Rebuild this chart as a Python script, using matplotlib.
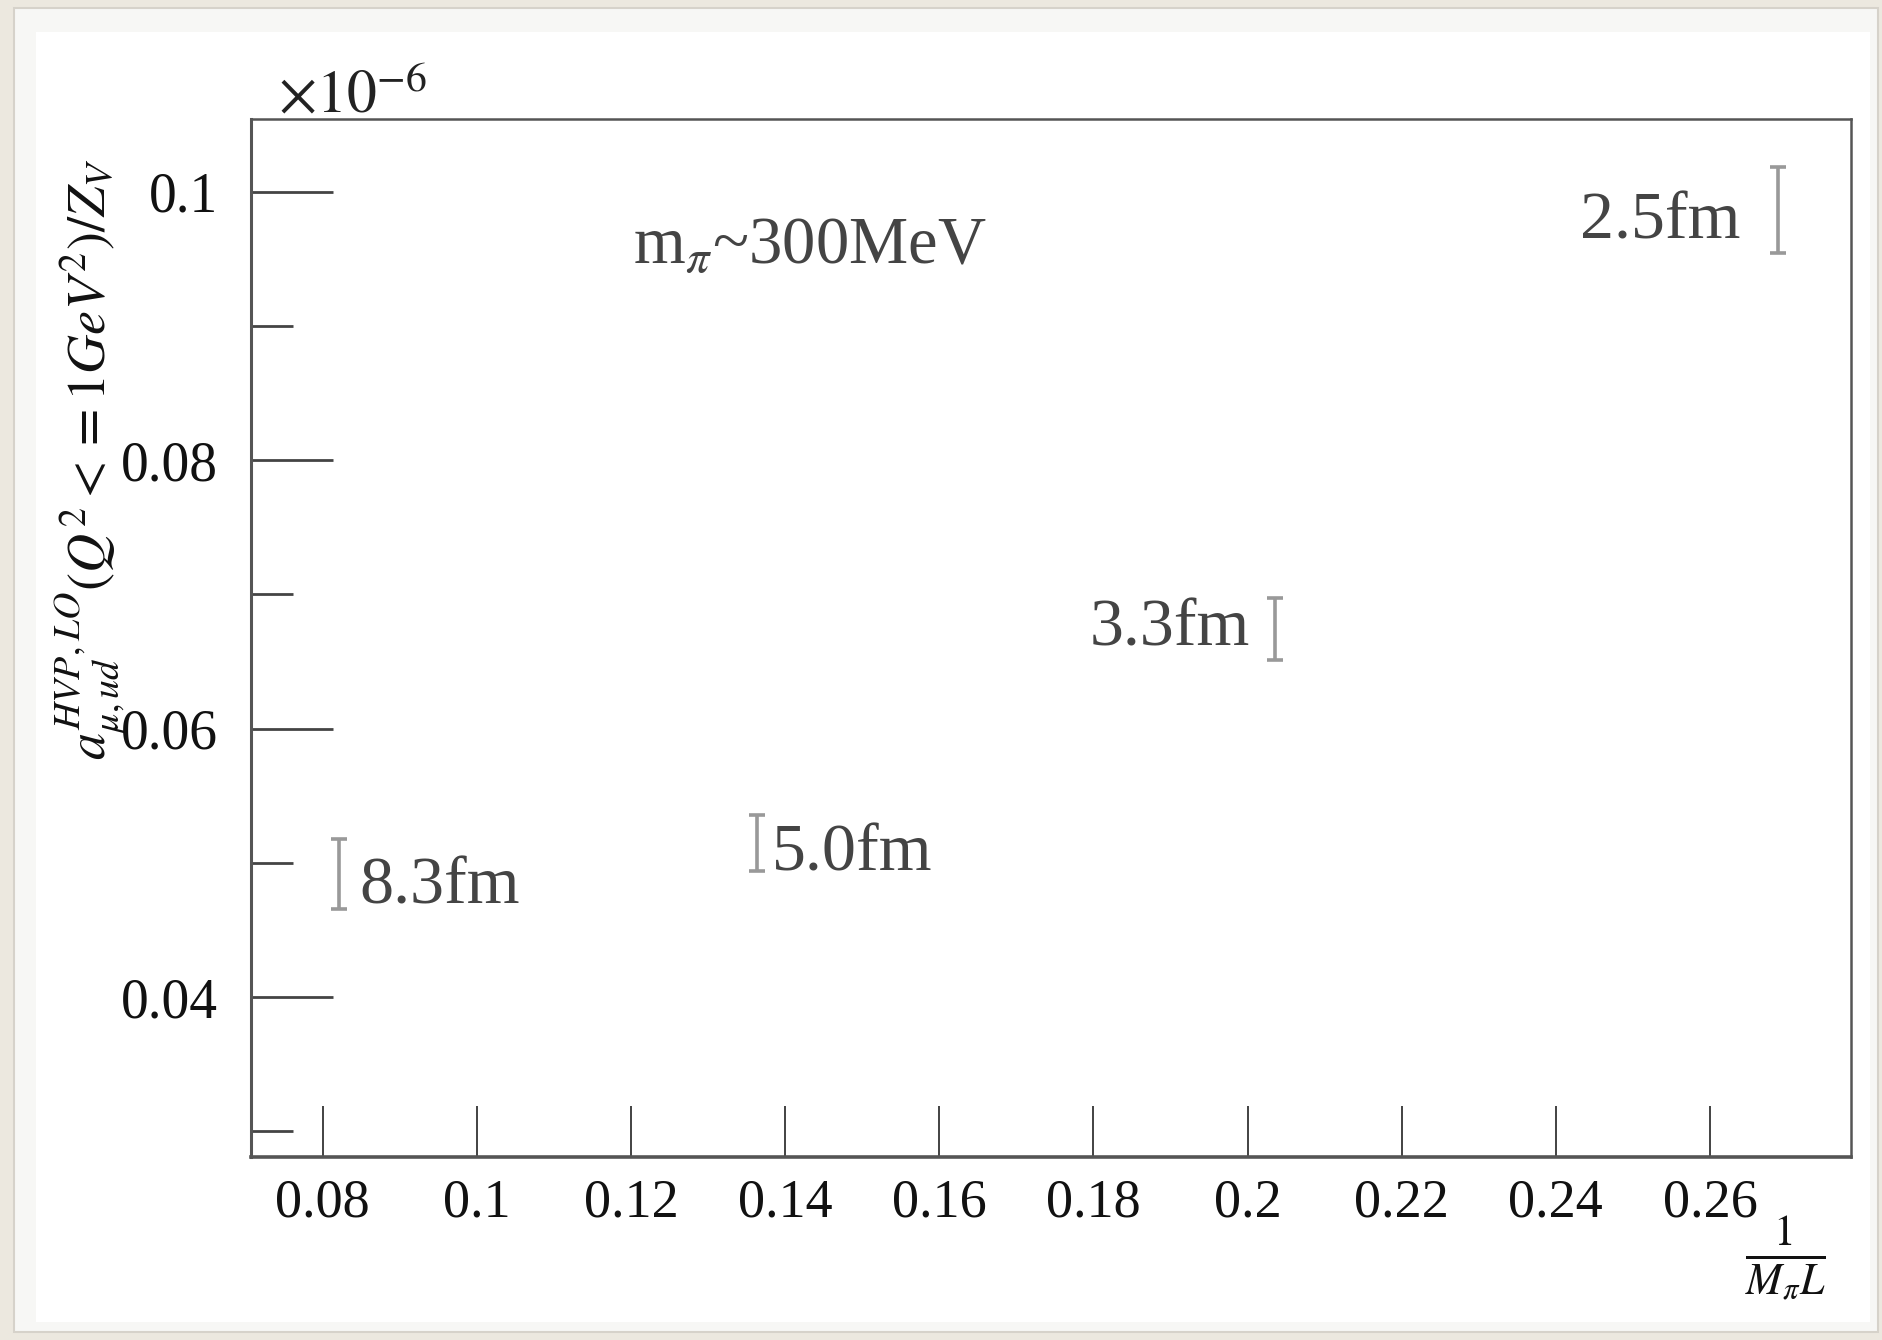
import matplotlib
matplotlib.use("Agg")
import matplotlib.pyplot as plt
from matplotlib.patches import Rectangle
from matplotlib.ticker import FixedLocator

# finite-volume points, m_pi ~ 300 MeV
box_labels = ["8.3fm", "5.0fm", "3.3fm", "2.5fm"]
inv_mpiL = [0.0821, 0.1363, 0.2036, 0.2688]
a_hvp = [0.0492, 0.0515, 0.0674, 0.0986]
a_err = [0.0026, 0.0021, 0.0023, 0.0032]

x_ticks = [0.08, 0.10, 0.12, 0.14, 0.16, 0.18, 0.20, 0.22, 0.24, 0.26]
x_ticklabels = ["0.08", "0.1", "0.12", "0.14", "0.16", "0.18", "0.2", "0.22", "0.24", "0.26"]
y_ticks = [0.04, 0.06, 0.08, 0.10]
y_ticklabels = ["0.04", "0.06", "0.08", "0.1"]

# label offsets (pixels) and alignment per point
LABEL_OFF = {"8.3fm": (21, -30, "left"), "5.0fm": (15, -28, "left"),
             "3.3fm": (-25, -16, "right"), "2.5fm": (-37, -28, "right")}

plt.rcParams["font.family"] = ["Liberation Serif", "DejaVu Serif"]
plt.rcParams["mathtext.fontset"] = "stix"

fig = plt.figure(figsize=(18.83, 13.4), dpi=100, facecolor="#ece8df")
# slide-like frame (behind the axes)
fig.patches.append(Rectangle((14 / 1883, 1 - 1332 / 1340), 1864 / 1883, 1324 / 1340,
                             transform=fig.transFigure, facecolor="#f7f7f5", edgecolor="#d6d2ca",
                             lw=1.5, zorder=-10))
fig.patches.append(Rectangle((36 / 1883, 1 - 1322 / 1340), 1834 / 1883, 1290 / 1340,
                             transform=fig.transFigure, facecolor="white", edgecolor="none",
                             zorder=-9))

ax = fig.add_axes([251 / 1883, 1 - 1157 / 1340, 1600 / 1883, 1038 / 1340])
ax.set_facecolor("white")
ax.errorbar(inv_mpiL, a_hvp, yerr=a_err, fmt="none", ecolor="#999999", elinewidth=2.6,
            capsize=6, capthick=2.6)
for x, y, lab in zip(inv_mpiL, a_hvp, box_labels):
    dx, dy, ha = LABEL_OFF[lab]
    ax.annotate(lab, (x, y), xytext=(dx, dy), textcoords="offset pixels", ha=ha, va="baseline",
                fontsize=49, color="#444444")

ax.text(0.239, 0.860, r"m$_{\pi}$~300MeV", transform=ax.transAxes, fontsize=48,
        color="#444444", ha="left", va="baseline")

ax.set_xlim(0.0707, 0.2783)
ax.set_ylim(0.0281, 0.1054)
ax.xaxis.set_major_locator(FixedLocator(x_ticks))
ax.set_xticklabels(x_ticklabels)
ax.yaxis.set_major_locator(FixedLocator(y_ticks))
ax.set_yticklabels(y_ticklabels)
ax.yaxis.set_minor_locator(FixedLocator([0.03, 0.05, 0.07, 0.09]))

ax.tick_params(axis="y", which="major", direction="in", length=59, width=2, color="#444444",
               labelsize=40, pad=24, right=False, labelcolor="#111111")
ax.tick_params(axis="y", which="minor", direction="in", length=30, width=2, color="#444444", right=False)
ax.tick_params(axis="x", which="major", direction="in", length=37, width=1.2, color="#222222",
               labelsize=39, pad=15, top=False, labelcolor="#111111")
for side, lw in (("left", 2.2), ("bottom", 2.6), ("top", 1.8), ("right", 1.8)):
    ax.spines[side].set_linewidth(lw)
    ax.spines[side].set_color("#555555")

ax.text(0.017, 1.0067, r"$\times10^{-6}$", transform=ax.transAxes, fontsize=43,
        color="#222222", ha="left", va="baseline")
ax.text(-0.099, 0.672, r"$a^{HVP,LO}_{\mu,ud}(Q^2<=1GeV^2)/Z_V$", transform=ax.transAxes,
        rotation=90, fontsize=39, ha="center", va="center", color="#111111")
ax.text(0.959, -0.098, r"$\frac{1}{M_{\pi}L}$", transform=ax.transAxes, fontsize=45,
        ha="center", va="center", color="#111111")

fig.savefig("out.png", dpi=100, facecolor=fig.get_facecolor())
